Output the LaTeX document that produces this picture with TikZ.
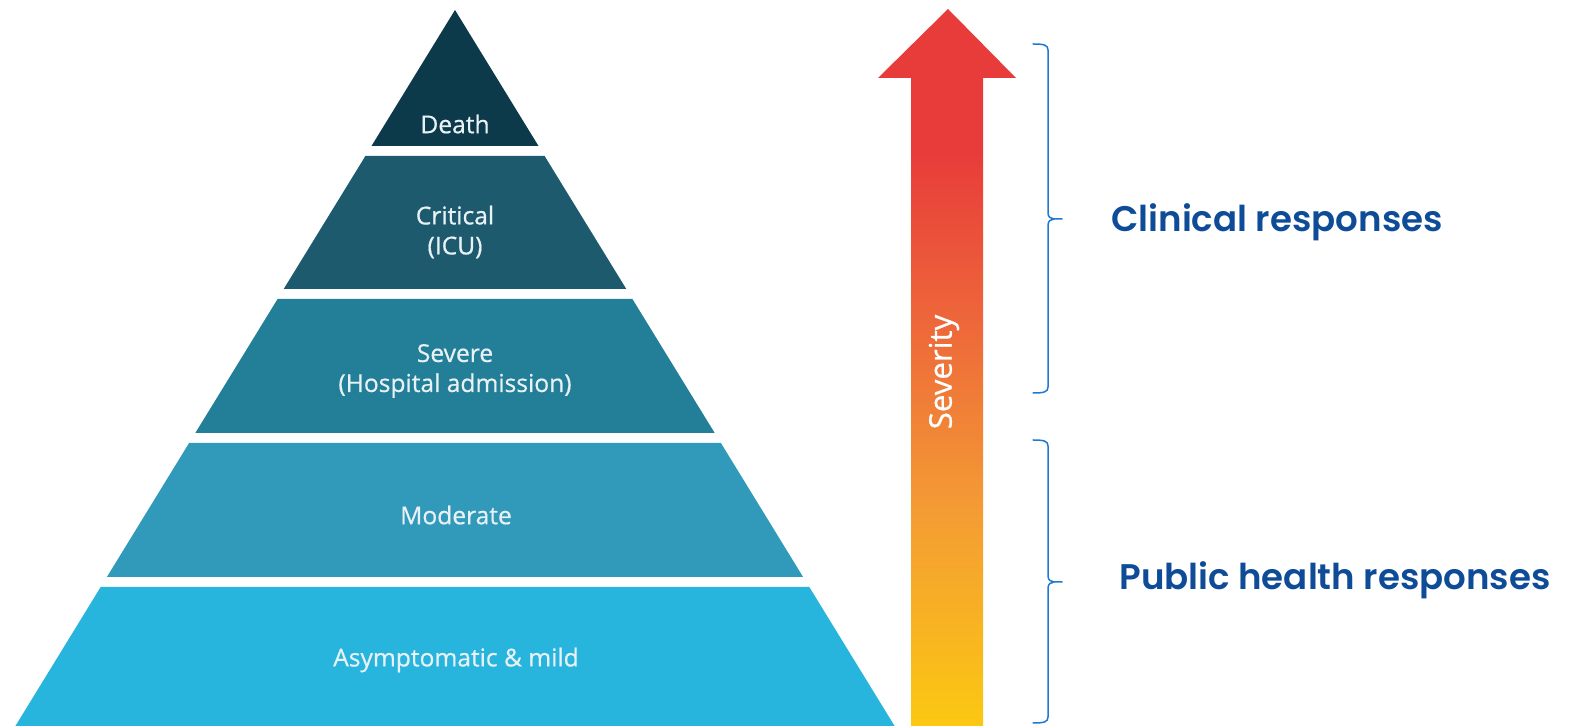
\documentclass[tikz,border=0pt]{standalone}
\usepackage{fontspec}
\setmainfont{Open Sans}
\newfontfamily\labelfont{Open Sans}[FakeBold=0.6]
\newfontfamily\respfont{Poppins}[BoldFont={* SemiBold}]
\usetikzlibrary{calc}

\definecolor{deathcol}{RGB}{12,58,75}
\definecolor{critcol}{RGB}{30,90,110}
\definecolor{sevcol}{RGB}{35,127,151}
\definecolor{modcol}{RGB}{49,153,185}
\definecolor{asymcol}{RGB}{39,180,221}
\definecolor{labelcol}{RGB}{232,242,246}
\definecolor{respblue}{RGB}{14,76,151}
\definecolor{braceblue}{RGB}{30,120,212}
\definecolor{sevred}{RGB}{232,60,58}
\definecolor{sevorange}{RGB}{237,100,58}
\definecolor{sevamber}{RGB}{244,156,52}
\definecolor{sevyellow}{RGB}{251,200,18}

\pgfdeclareverticalshading{severityshade}{100bp}{color(0bp)=(sevyellow); color(25bp)=(sevyellow); color(40bp)=(sevamber); color(54bp)=(sevorange); color(65bp)=(sevred); color(100bp)=(sevred)}

\tikzset{
  layerlabel/.style={text=labelcol,font=\labelfont\fontsize{12.3}{15}\selectfont,align=center,inner sep=0pt},
  resplabel/.style={text=respblue,font=\respfont\bfseries\fontsize{17.8}{22}\selectfont,inner sep=0pt,anchor=base west},
  respbrace/.style={draw=braceblue,line width=0.75pt}
}

\begin{document}
\begin{tikzpicture}[line cap=round,line join=round,x=0.5pt,y=-0.5pt]
        \useasboundingbox (0,0) rectangle (1581,726);
        \fill[deathcol] (455,10) -- (538.5,146) -- (371.5,146) -- cycle;
        \fill[critcol] (365.4,156) -- (544.6,156) -- (626.3,289) -- (283.7,289) -- cycle;
        \fill[sevcol] (277.6,299) -- (632.4,299) -- (714.7,433) -- (195.3,433) -- cycle;
        \fill[modcol] (189.1,443) -- (720.9,443) -- (803.1,577) -- (106.9,577) -- cycle;
        \fill[asymcol] (100.7,587) -- (809.3,587) -- (894.6,726) -- (15.4,726) -- cycle;
        
        \node[layerlabel] (death) at (455,124) {Death};
        \node[layerlabel] (critical) at (455,232) {Critical\\(ICU)};
        \node[layerlabel] (severe) at (455,371) {Severe\\(Hospital admission)};
        \node[layerlabel] (moderate) at (456,515) {Moderate};
        \node[layerlabel] (mild) at (456,660) {Asymptomatic \& mild};
        
        \shade[shading=severityshade] (911,726) -- (911,78) -- (878,78) -- (948,9) -- (1016,78) -- (983,78) -- (983,726) -- cycle;
        \node[text=white,font=\labelfont\fontsize{15.6}{18}\selectfont,rotate=90,inner sep=0pt] (severity) at (944,372) {Severity};
        
        % braces
        \coordinate (clintop) at (1033,44);
        \coordinate (clintip) at (1062,219);
        \coordinate (clinbot) at (1033,393);
        \coordinate (pubtop) at (1033,440);
        \coordinate (pubtip) at (1062,582);
        \coordinate (pubbot) at (1033,723);
        \draw[respbrace] (clintop) .. controls ($(clintop)+(11,0)$) and ($(clintop)+(15,1)$) .. ($(clintop)+(15,6)$)
          -- ($(clintip)+(-14,-6)$) .. controls ($(clintip)+(-14,-2)$) and ($(clintip)+(-11,0)$) .. ($(clintip)+(-8,0)$) -- (clintip);
        \draw[respbrace] ($(clintip)+(-8,0)$) .. controls ($(clintip)+(-11,0)$) and ($(clintip)+(-14,2)$) .. ($(clintip)+(-14,6)$)
          -- ($(clinbot)+(15,-6)$) .. controls ($(clinbot)+(15,-1)$) and ($(clinbot)+(11,0)$) .. (clinbot);
        \draw[respbrace] (pubtop) .. controls ($(pubtop)+(11,0)$) and ($(pubtop)+(15,1)$) .. ($(pubtop)+(15,6)$)
          -- ($(pubtip)+(-14,-6)$) .. controls ($(pubtip)+(-14,-2)$) and ($(pubtip)+(-11,0)$) .. ($(pubtip)+(-8,0)$) -- (pubtip);
        \draw[respbrace] ($(pubtip)+(-8,0)$) .. controls ($(pubtip)+(-11,0)$) and ($(pubtip)+(-14,2)$) .. ($(pubtip)+(-14,6)$)
          -- ($(pubbot)+(15,-6)$) .. controls ($(pubbot)+(15,-1)$) and ($(pubbot)+(11,0)$) .. (pubbot);
        
        \node[resplabel] (clinical) at (1111,232) {Clinical responses};
        \node[resplabel] (public) at (1119,590) {Public health responses};
      \end{tikzpicture}
\end{document}
